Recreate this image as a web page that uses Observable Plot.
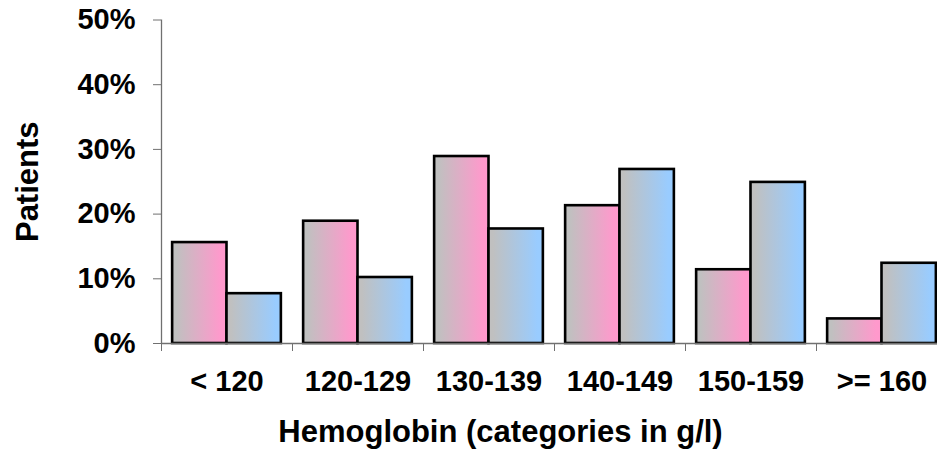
<!DOCTYPE html>
<html>
<head>
<meta charset="utf-8">
<script src="https://cdn.jsdelivr.net/npm/d3@7"></script>
<script src="https://cdn.jsdelivr.net/npm/@observablehq/plot@0.6"></script>
<style>
  html, body { margin: 0; padding: 0; background: #fff; overflow: hidden; }
  svg { display: block; }
</style>
</head>
<body>
<div id="chart"></div>
<script>
const categories = ["< 120", "120-129", "130-139", "140-149", "150-159", ">= 160"];
const seriesPink = [15.6, 18.9, 28.9, 21.3, 11.4, 3.8];
const seriesBlue = [7.7, 10.2, 17.7, 26.9, 24.9, 12.4];
const yTicks = [0, 10, 20, 30, 40, 50];
const xTitle = "Hemoglobin (categories in g/l)";
const yTitle = "Patients";

const rows = categories.map((c, i) => ({i, c, pink: seriesPink[i], blue: seriesBlue[i]}));
const pad = 0.085;
const font = "Liberation Sans, Arial, sans-serif";
const axisColor = "#707070";

const plot = Plot.plot({
  width: 937,
  height: 451,
  marginLeft: 161,
  marginRight: -10,
  marginTop: 19.5,
  marginBottom: 108,
  style: {fontFamily: font, background: "#fff", overflow: "visible"},
  x: {domain: [0, categories.length], axis: null},
  y: {domain: [0, 50], axis: null},
  marks: [
    Plot.rectY(rows, {x1: d => d.i + pad, x2: d => d.i + 0.5, y1: 0, y2: "pink",
      fill: "url(#gradPink)", stroke: "#000", strokeWidth: 2.6}),
    Plot.rectY(rows, {x1: d => d.i + 0.5, x2: d => d.i + 1 - pad, y1: 0, y2: "blue",
      fill: "url(#gradBlue)", stroke: "#000", strokeWidth: 2.6}),
    Plot.ruleY([0], {stroke: axisColor, strokeWidth: 1.3}),
    Plot.ruleX([0], {stroke: axisColor, strokeWidth: 1.3}),
    Plot.axisY({ticks: yTicks, tickFormat: d => d + "%", tickSize: 8, tickPadding: 18,
      fontSize: 29, fontWeight: "bold", fill: "#000", stroke: axisColor, strokeOpacity: 1, label: null}),
    Plot.axisX({ticks: d3.range(categories.length + 1), tickSize: 8, tickFormat: () => "",
      stroke: axisColor, strokeOpacity: 1, label: null}),
    Plot.axisX({ticks: categories.map((c, i) => i + 0.5), tickSize: 0, tickPadding: 27,
      tickFormat: (d) => categories[Math.floor(d)], fontSize: 29, fontWeight: "bold", fill: "#000", label: null}),
    Plot.text([yTitle], {frameAnchor: "left", textAnchor: "middle", lineAnchor: "middle", dx: -133, rotate: -90,
      fontSize: 31, fontWeight: "bold", fill: "#000"}),
    Plot.text([xTitle], {frameAnchor: "bottom", textAnchor: "middle", lineAnchor: "middle", dx: -54, dy: 89,
      fontSize: 31, fontWeight: "bold", fill: "#000"})
  ]
});

const svg = d3.select(plot);
const defs = svg.insert("defs", ":first-child");
function grad(id, c1, c2) {
  const g = defs.append("linearGradient").attr("id", id)
    .attr("x1", "0%").attr("x2", "100%").attr("y1", "0%").attr("y2", "0%");
  g.append("stop").attr("offset", "8%").attr("stop-color", c1);
  g.append("stop").attr("offset", "90%").attr("stop-color", c2);
}
grad("gradPink", "#c0c0c0", "#ff99cc");
grad("gradBlue", "#c0c0c0", "#99ccff");

document.getElementById("chart").appendChild(plot);
</script>
</body>
</html>
